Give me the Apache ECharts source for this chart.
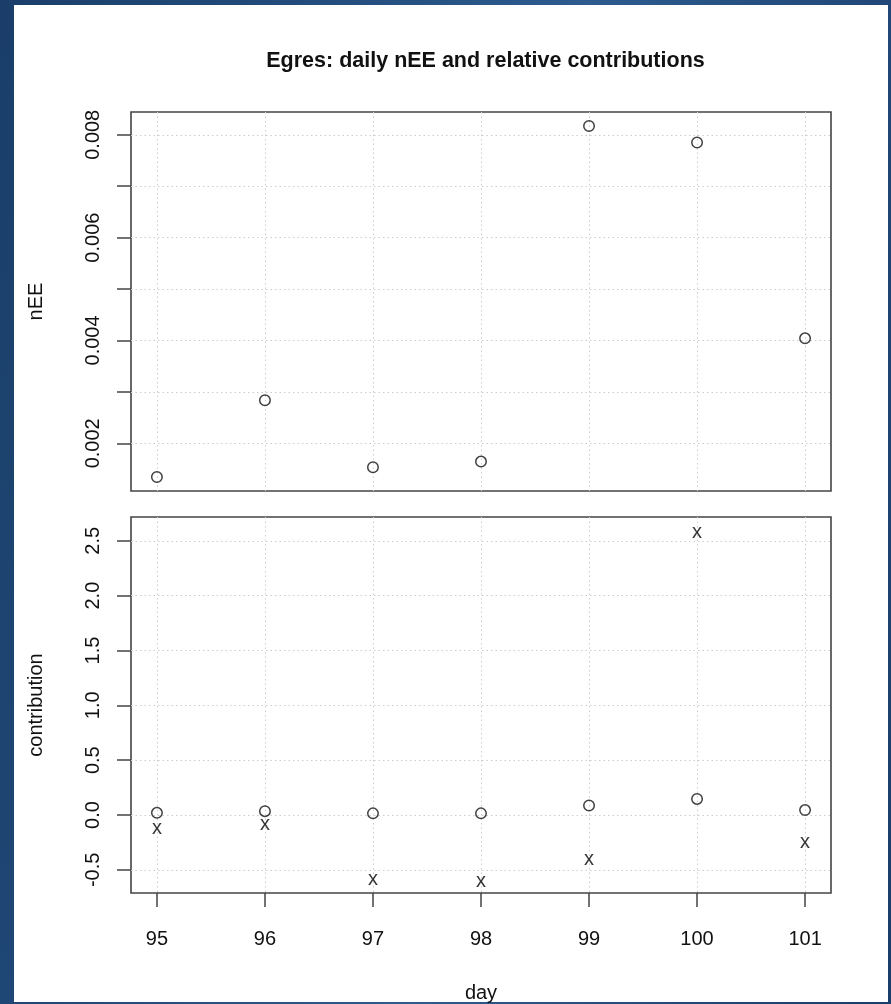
<!DOCTYPE html>
<html>
<head>
<meta charset="utf-8">
<script src="https://cdn.jsdelivr.net/npm/echarts@6/dist/echarts.min.js"></script>
<style>
  html, body { margin: 0; padding: 0; }
  #frame {
    position: relative; width: 891px; height: 1004px; overflow: hidden;
    background: linear-gradient(100deg, #1a3e69 0%, #234d7d 30%, #2d5b8e 55%, #22497a 80%, #1a3e6b 100%);
  }
  #paper { position: absolute; left: 14px; top: 5px; width: 874px; height: 997px; background: #fff; }
  #chart { position: absolute; left: 0; top: 0; width: 891px; height: 1004px; }
</style>
</head>
<body>
<div id="frame">
  <div id="paper"></div>
  <div id="chart"></div>
</div>
<script>
// Days observed
const days = [95, 96, 97, 98, 99, 100, 101];
// Daily nEE
const nEE = [0.001345, 0.002836, 0.001534, 0.001644, 0.00817, 0.00785, 0.004041];
// Relative contributions: two series per day (drawn as "o" and "x")
const contribO = [0.02, 0.035, 0.015, 0.015, 0.087, 0.147, 0.045];
const contribX = [-0.10, -0.07, -0.57, -0.584, -0.387, 2.59, -0.228];
// Tick positions and labelled values
const nEETicks = [0.002, 0.003, 0.004, 0.005, 0.006, 0.007, 0.008];
const nEELabels = [0.002, 0.004, 0.006, 0.008];
const contribTicks = [-0.5, 0, 0.5, 1.0, 1.5, 2.0, 2.5];

// Axis limits padded by 4% of the data range on both sides
function padRange(vals) {
  const lo = Math.min.apply(null, vals), hi = Math.max.apply(null, vals);
  const d = (hi - lo) * 0.04;
  return [lo - d, hi + d];
}
const xr = padRange(days);
const y1 = padRange(nEE);
const y2 = padRange(contribO.concat(contribX));

const FONT = 'Liberation Sans, Arial, Helvetica, sans-serif';
const INK = '#111';
const gridLine = { show: true, lineStyle: { color: '#cdcdcd', type: [1.5, 3], width: 1 } };
const tick = { show: true, length: 14, lineStyle: { color: '#444', width: 1.5 } };
const noLine = { show: false, onZero: false };
const nameStyle = { fontFamily: FONT, fontSize: 20, color: INK };
const labelStyle = { fontFamily: FONT, fontSize: 20, color: INK };

const chart = echarts.init(document.getElementById('chart'), null, { renderer: 'canvas' });
chart.setOption({
  backgroundColor: 'transparent',
  animation: false,
  title: {
    text: 'Egres: daily nEE and relative contributions',
    left: 480.5, top: 45, textAlign: 'center',
    textStyle: { fontFamily: FONT, fontWeight: 'bold', fontSize: 21.5, color: INK }
  },
  grid: [
    { left: 131, top: 112, width: 700, height: 379, show: true, borderColor: '#444', borderWidth: 1.6, backgroundColor: 'transparent' },
    { left: 131, top: 517, width: 700, height: 379, show: true, borderColor: '#444', borderWidth: 1.6, backgroundColor: 'transparent' }
  ],
  xAxis: [
    {
      type: 'value', gridIndex: 0, min: xr[0], max: xr[1],
      axisLine: noLine, axisTick: { show: false, customValues: days },
      axisLabel: { show: false, customValues: days }, splitLine: gridLine
    },
    {
      type: 'value', gridIndex: 1, min: xr[0], max: xr[1],
      name: 'day', nameLocation: 'middle', nameGap: 90, nameTextStyle: nameStyle,
      axisLine: noLine, axisTick: Object.assign({ customValues: days }, tick),
      axisLabel: Object.assign({ customValues: days, margin: 36, formatter: v => String(Math.round(v)) }, labelStyle),
      splitLine: gridLine
    }
  ],
  yAxis: [
    {
      type: 'value', gridIndex: 0, min: y1[0], max: y1[1],
      name: 'nEE', nameLocation: 'middle', nameGap: 85, nameRotate: 90, nameTextStyle: nameStyle,
      axisLine: noLine, axisTick: Object.assign({ customValues: nEETicks }, tick),
      axisLabel: Object.assign({ customValues: nEELabels, rotate: 90, margin: 28, formatter: v => v.toFixed(3) }, labelStyle),
      splitLine: gridLine
    },
    {
      type: 'value', gridIndex: 1, min: y2[0], max: y2[1],
      name: 'contribution', nameLocation: 'middle', nameGap: 85, nameRotate: 90, nameTextStyle: nameStyle,
      axisLine: noLine, axisTick: Object.assign({ customValues: contribTicks }, tick),
      axisLabel: Object.assign({ customValues: contribTicks, rotate: 90, margin: 28, formatter: v => v.toFixed(1) }, labelStyle),
      splitLine: gridLine
    }
  ],
  series: [
    {
      type: 'scatter', xAxisIndex: 0, yAxisIndex: 0,
      data: days.map((d, i) => [d, nEE[i]]),
      symbol: 'circle', symbolSize: 10.5,
      itemStyle: { color: 'rgba(0,0,0,0)', borderColor: '#111', borderWidth: 1.5 }
    },
    {
      type: 'scatter', xAxisIndex: 1, yAxisIndex: 1,
      data: days.map((d, i) => [d, contribO[i]]),
      symbol: 'circle', symbolSize: 10.5,
      itemStyle: { color: 'rgba(0,0,0,0)', borderColor: '#111', borderWidth: 1.5 }
    },
    {
      type: 'scatter', xAxisIndex: 1, yAxisIndex: 1,
      data: days.map((d, i) => [d, contribX[i]]),
      symbol: 'circle', symbolSize: 1,
      itemStyle: { color: 'rgba(0,0,0,0)' },
      label: {
        show: true, position: 'inside', formatter: 'x', offset: [0, 2],
        fontFamily: FONT, fontSize: 20, color: '#000', verticalAlign: 'middle', align: 'center'
      }
    }
  ]
});
</script>
</body>
</html>
